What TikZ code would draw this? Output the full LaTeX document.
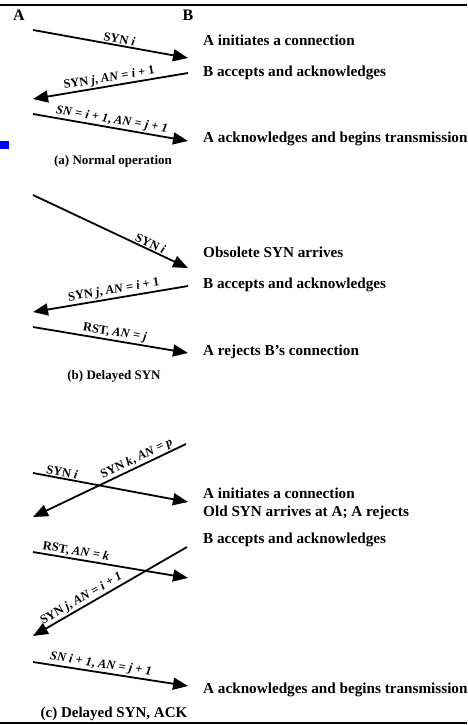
\documentclass[tikz,border=0pt]{standalone}
\usepackage{fontspec}
\setmainfont{Liberation Serif}
\usetikzlibrary{arrows.meta}
\newcommand{\vv}[1]{\textit{#1}}
\begin{document}
\begin{tikzpicture}[x=1pt,y=-1pt,
  msg/.style={line width=1.8pt,-{Triangle[length=15pt,width=12pt]}},
  lbl/.style={font=\bfseries\fontsize{12.5}{14}\selectfont,sloped,above,inner sep=1.2pt},
  note/.style={anchor=west,font=\bfseries\fontsize{15.2}{18}\selectfont,inner sep=0pt},
  captxt/.style={font=\bfseries\fontsize{13}{15}\selectfont,inner sep=0pt},
  hdr/.style={font=\bfseries\fontsize{16}{18}\selectfont,inner sep=0pt},
  frameline/.style={line width=2.5pt}]
\useasboundingbox (0,0) rectangle (467,725);
% frame rules
\coordinate (tl) at (0,5); \coordinate (tr) at (467,5);
\coordinate (bl) at (0,723); \coordinate (br) at (467,723);
\draw[frameline] (tl) -- (tr);
\draw[line width=2pt] (bl) -- (br);
\fill[blue] (0,141) rectangle (9,149);
% headers
\node[hdr] (A) at (19,15) {A};
\node[hdr] (B) at (188,15) {B};
% ---------- (a)
\coordinate (a1s) at (33,30);  \coordinate (a1e) at (188,58);
\coordinate (a2s) at (188,73); \coordinate (a2e) at (33,99);
\coordinate (a3s) at (33,114); \coordinate (a3e) at (188,141);
\draw[msg] (a1s) -- node[lbl,pos=0.55] {SYN \vv{i}} (a1e);
\draw[msg] (a2s) -- node[lbl,pos=0.5] {SYN \vv{j}, \vv{AN} = \vv{i} + 1} (a2e);
\draw[msg] (a3s) -- node[lbl,pos=0.5] {\vv{SN} = \vv{i} + \vv{1}, \vv{AN} = \vv{j} + \vv{1}} (a3e);
\node[note] (na1) at (203,40) {A initiates a connection};
\node[note] (na2) at (203,73) {B accepts and acknowledges};
\node[note] (na3) at (203,139) {A acknowledges and begins transmission};
\node[captxt] (capa) at (113,161) {(a) Normal operation};
% ---------- (b)
\coordinate (b1s) at (33,195);  \coordinate (b1e) at (188,268);
\coordinate (b2s) at (188,286); \coordinate (b2e) at (33,312);
\coordinate (b3s) at (33,327);  \coordinate (b3e) at (188,353);
\draw[msg] (b1s) -- node[lbl,pos=0.74] {SYN \vv{i}} (b1e);
\draw[msg] (b2s) -- node[lbl,pos=0.47] {SYN \vv{j}, \vv{AN} = \vv{i} + 1} (b2e);
\draw[msg] (b3s) -- node[lbl,pos=0.52] {RST, \vv{AN} = \vv{j}} (b3e);
\node[note] (nb1) at (203,252) {Obsolete SYN arrives};
\node[note] (nb2) at (203,285) {B accepts and acknowledges};
\node[note] (nb3) at (203,352) {A rejects B's connection};
\node[captxt] (capb) at (114,376) {(b) Delayed SYN};
% ---------- (c)
\coordinate (c1s) at (186,444); \coordinate (c1e) at (33,517);
\coordinate (c2s) at (33,473);  \coordinate (c2e) at (188,502);
\coordinate (c3s) at (33,552);  \coordinate (c3e) at (188,578);
\coordinate (c4s) at (187,547); \coordinate (c4e) at (33,636);
\coordinate (c5s) at (33,662);  \coordinate (c5e) at (188,686);
\draw[msg] (c1s) -- node[lbl,pos=0.3] {SYN \vv{k}, \vv{AN} = \vv{p}} (c1e);
\draw[msg] (c2s) -- node[lbl,pos=0.18] {SYN \vv{i}} (c2e);
\draw[msg] (c3s) -- node[lbl,pos=0.27] {RST, \vv{AN} = \vv{k}} (c3e);
\draw[msg] (c4s) -- node[lbl,pos=0.66] {SYN \vv{j}, \vv{AN} = \vv{i} + \vv{1}} (c4e);
\draw[msg] (c5s) -- node[lbl,pos=0.43] {\vv{SN i} + \vv{1}, \vv{AN} = \vv{j} + \vv{1}} (c5e);
\node[note] (nc1) at (203,493) {A initiates a connection};
\node[note] (nc2) at (203,513) {Old SYN arrives at A; A rejects};
\node[note] (nc3) at (203,540) {B accepts and acknowledges};
\node[note] (nc4) at (203,690) {A acknowledges and begins transmission};
\node[captxt,font=\bfseries\fontsize{15}{17}\selectfont] (capc) at (114,714) {(c) Delayed SYN, ACK};
\end{tikzpicture}
\end{document}
